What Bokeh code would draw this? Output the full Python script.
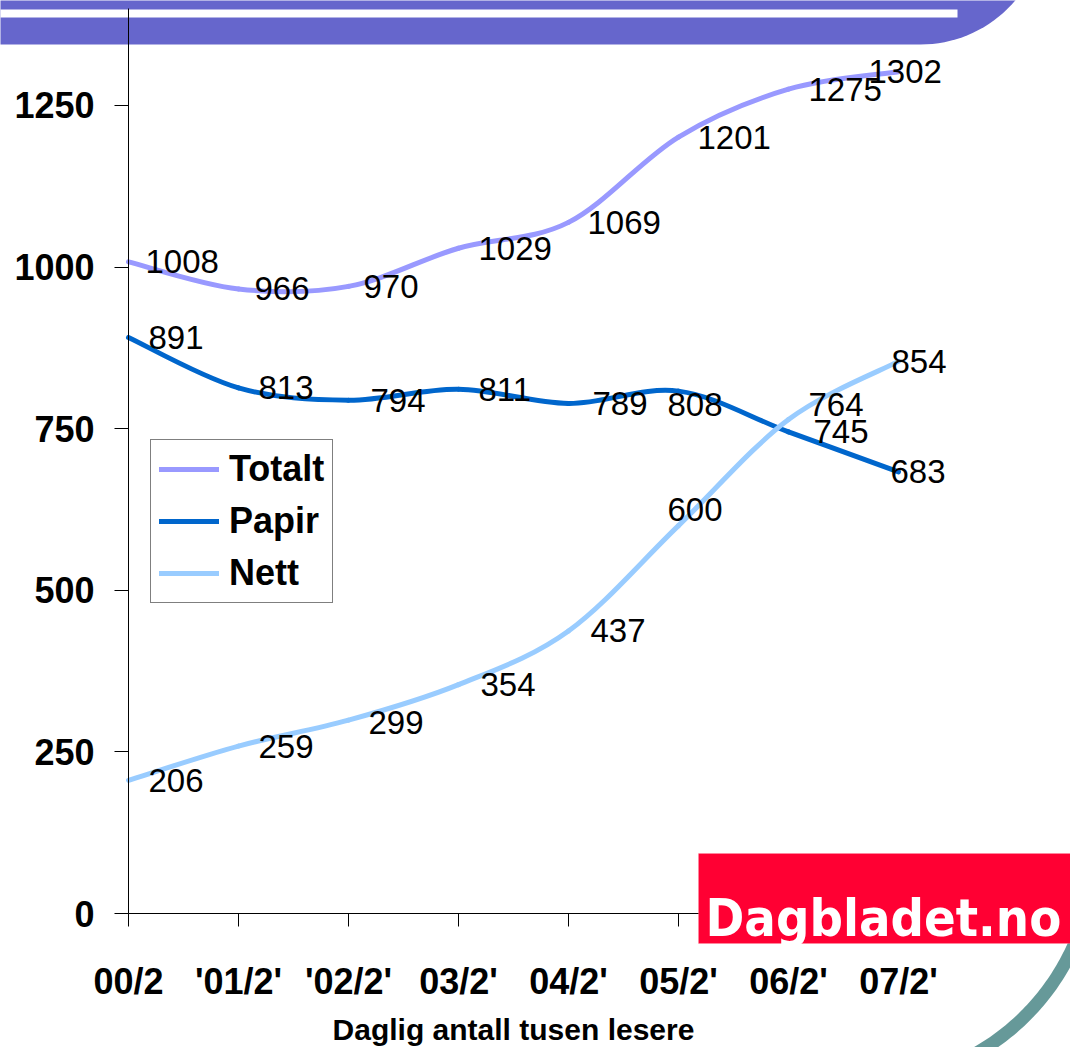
import numpy as np
from bokeh.plotting import figure
from bokeh.models import (Range1d, FixedTicker, ColumnDataSource, LabelSet, Legend,
                          LegendItem, PolyAnnotation, BoxAnnotation, Label)
from bokeh.core.properties import value
from bokeh.embed import file_html
from bokeh.resources import INLINE

# ---------------- data ----------------
categories = ["00/2", "'01/2'", "'02/2'", "03/2'", "04/2'", "05/2'", "06/2'", "07/2'"]
totalt = [1008, 966, 970, 1029, 1069, 1201, 1275, 1302]
papir = [891, 813, 794, 811, 789, 808, 745, 683]
nett = [206, 259, 299, 354, 437, 600, 764, 854]
y_ticks = [0, 250, 500, 750, 1000, 1250]
x_title = "Daglig antall tusen lesere"

# ---------------- layout ----------------
W, H = 1070, 1047
X0PX, Y0PX = 128.0, 913.0      # pixel position of data origin
STEP = 110.0                   # px per category
SC = 0.6465                    # px per unit on y
FONT = "Liberation Sans"
C_TOT, C_PAP, C_NET = "#9999FF", "#0066CC", "#99CCFF"


def X(px):  # pixel -> data x (decorations only)
    return (px - X0PX) / STEP


def Y(py):  # pixel -> data y (decorations only)
    return (Y0PX - py) / SC


p = figure(width=W, height=H, x_range=Range1d(X(0), X(W)), y_range=Range1d(Y(H), Y(0)),
           output_backend="svg", toolbar_location=None,
           min_border_left=0, min_border_bottom=0, min_border_top=0, min_border_right=0)
p.outline_line_color = None
p.grid.visible = False
p.background_fill_color = "white"
p.border_fill_color = "white"

# ---------------- decorations (top band, arc) ----------------
ang = np.linspace(np.arcsin(-90 / 124.0), np.pi / 2, 50)
band_x = [-20] + list(920 + 124 * np.cos(ang)) + [-20]
band_y = [-20] + list(-80 + 124 * np.sin(ang)) + [44]
p.add_layout(PolyAnnotation(xs=[X(v) for v in band_x], ys=[Y(v) for v in band_y],
                            fill_color="#6666CC", fill_alpha=1, line_color=None, level="underlay"))
p.add_layout(BoxAnnotation(left=X(-20), right=X(957), top=Y(9), bottom=Y(17),
                           fill_color="white", fill_alpha=1, line_color=None, level="underlay"))

a2 = np.linspace(0.15, 1.3, 80)
r_out, r_in = 240.0, 227.0
arc_x = list(860 + r_out * np.cos(a2)) + list(860 + r_in * np.cos(a2[::-1]))
arc_y = list(850 + r_out * np.sin(a2)) + list(850 + r_in * np.sin(a2[::-1]))
p.add_layout(PolyAnnotation(xs=[X(v) for v in arc_x], ys=[Y(v) for v in arc_y],
                            fill_color="#669999", fill_alpha=1, line_color=None, level="underlay"))

# ---------------- axes ----------------
ya = p.yaxis[0]
ya.fixed_location = 0
ya.bounds = (0, 1400)
ya.ticker = FixedTicker(ticks=y_ticks)
ya.major_tick_in = 0
ya.major_tick_out = 14
ya.minor_tick_line_color = None
ya.major_label_standoff = 20
ya.major_label_text_font = FONT
ya.major_label_text_font_style = "bold"
ya.major_label_text_font_size = "36px"
ya.major_label_text_color = "black"
ya.axis_line_color = "black"
ya.major_tick_line_color = "black"

xa = p.xaxis[0]
xa.fixed_location = 0
xa.bounds = (0, len(categories) - 1)
xa.ticker = FixedTicker(ticks=list(range(len(categories))))
xa.major_label_overrides = {i: c for i, c in enumerate(categories)}
xa.major_tick_in = 0
xa.major_tick_out = 13
xa.minor_tick_line_color = None
xa.major_label_standoff = 34
xa.major_label_text_font = FONT
xa.major_label_text_font_style = "bold"
xa.major_label_text_font_size = "36px"
xa.major_label_text_color = "black"
xa.axis_label = x_title
xa.axis_label_text_font = FONT
xa.axis_label_text_font_style = "bold"
xa.axis_label_text_font_size = "30px"
xa.axis_label_text_color = "black"
xa.axis_label_standoff = 8
xa.axis_line_color = "black"
xa.major_tick_line_color = "black"

# ---------------- smoothed lines ----------------
xs = np.arange(len(categories), dtype=float)


def smooth_source(vals):
    ys = np.asarray(vals, dtype=float)
    n = len(ys)
    d = dict(x0=[], y0=[], x1=[], y1=[], cx0=[], cy0=[], cx1=[], cy1=[])
    for i in range(n - 1):
        i0, i3 = max(i - 1, 0), min(i + 2, n - 1)
        d["x0"].append(xs[i]); d["y0"].append(ys[i])
        d["x1"].append(xs[i + 1]); d["y1"].append(ys[i + 1])
        d["cx0"].append(xs[i] + (xs[i + 1] - xs[i0]) / 6)
        d["cy0"].append(ys[i] + (ys[i + 1] - ys[i0]) / 6)
        d["cx1"].append(xs[i + 1] - (xs[i3] - xs[i]) / 6)
        d["cy1"].append(ys[i + 1] - (ys[i3] - ys[i]) / 6)
    return ColumnDataSource(d)


renderers = {}
for name, vals, col in [("Totalt", totalt, C_TOT), ("Papir", papir, C_PAP), ("Nett", nett, C_NET)]:
    renderers[name] = p.bezier(x0="x0", y0="y0", x1="x1", y1="y1", cx0="cx0", cy0="cy0",
                               cx1="cx1", cy1="cy1", source=smooth_source(vals),
                               line_color=col, line_width=5, line_cap="round")

# ---------------- data labels ----------------
# label offsets in screen pixels (layout only)
off_tot = [(17, 0), (16, 0), (15, 0), (20, 0), (19, 0), (19, 0), (20, 0), (-30, 0)]
off_pap = [(20, 0), (20, 0), (22, 0), (20, 0), (24, 0), (-11, -13), (25, 0), (-8, 0)]
off_net = [(20, 0), (20, 0), (20, -2), (22, 0), (22, 0), (-11, 16), (20, 15), (-7, 0)]

for vals, offs in [(totalt, off_tot), (papir, off_pap), (nett, off_net)]:
    src = ColumnDataSource(dict(x=xs, y=vals, t=[str(v) for v in vals],
                                dx=[o[0] for o in offs], dy=[o[1] for o in offs]))
    p.add_layout(LabelSet(x="x", y="y", text="t", source=src, x_offset="dx", y_offset="dy",
                          text_font=value(FONT), text_font_size="33px", text_color="black",
                          text_align="left", text_baseline="middle"))

# ---------------- legend ----------------
legend = Legend(items=[LegendItem(label=k, renderers=[renderers[k]]) for k in ["Totalt", "Papir", "Nett"]],
                location=(150, H - 603))
legend.label_text_font = FONT
legend.label_text_font_style = "bold"
legend.label_text_font_size = "36px"
legend.label_text_color = "black"
legend.glyph_width = 60
legend.glyph_height = 20
legend.label_standoff = 10
legend.padding = 8
legend.spacing = 10
legend.margin = 0
legend.border_line_color = "black"
legend.border_line_width = 1.5
legend.background_fill_color = "white"
legend.background_fill_alpha = 1
p.add_layout(legend)

# ---------------- logo ----------------
p.add_layout(BoxAnnotation(left=X(698), right=X(1080), top=Y(853), bottom=Y(943),
                           fill_color="#FF0033", fill_alpha=1, line_color="#FF99AA", line_width=1))
p.add_layout(Label(x=X(705), y=Y(917), text="Dagbladet.no", text_color="white",
                   text_font="DejaVu Sans Condensed",
                   text_font_style="bold", text_font_size="52px", text_baseline="alphabetic"))

open("out.html", "w").write(file_html(p, INLINE))
